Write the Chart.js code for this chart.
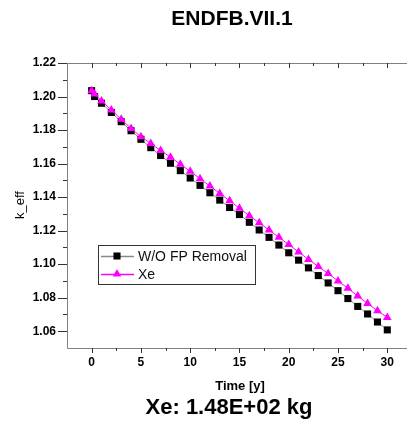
<!DOCTYPE html>
<html>
<head>
<meta charset="utf-8">
<script src="https://cdn.jsdelivr.net/npm/chart.js@4.4.1/dist/chart.umd.min.js"></script>
<style>
  html, body { margin: 0; padding: 0; background: #fff; }
  #c { display: block; }
</style>
</head>
<body>
<canvas id="c" width="412" height="426"></canvas>
<script>
// burnup time (years) and k_eff
const years = [0, 0.3, 1, 2, 3, 4, 5, 6, 7, 8, 9, 10, 11, 12, 13, 14, 15,
  16, 17, 18, 19, 20, 21, 22, 23, 24, 25, 26, 27, 28, 29, 30];
const kNoRemoval = [1.2035, 1.2000, 1.1960, 1.1905, 1.1850, 1.1796, 1.1745, 1.1695,
  1.1648, 1.1602, 1.1558, 1.1514, 1.1470, 1.1426, 1.1382, 1.1338, 1.1296, 1.1250,
  1.1204, 1.1160, 1.1114, 1.1068, 1.1024, 1.0978, 1.0932, 1.0888, 1.0842, 1.0795,
  1.0748, 1.0703, 1.0655, 1.0608];
const kXe = [1.2035, 1.2015, 1.1974, 1.1920, 1.1864, 1.1810, 1.1760, 1.1720,
  1.1678, 1.1638, 1.1596, 1.1554, 1.1510, 1.1466, 1.1422, 1.1378, 1.1333, 1.1289,
  1.1247, 1.1204, 1.1160, 1.1117, 1.1073, 1.1028, 1.0986, 1.0944, 1.0900, 1.0856,
  1.0810, 1.0765, 1.0722, 1.0682];

const seriesLabels = ['W/O FP Removal', 'Xe'];
const xMajor = [0, 5, 10, 15, 20, 25, 30];
const xMinor = [2.5, 7.5, 12.5, 17.5, 22.5, 27.5];
const yMajor = [1.06, 1.08, 1.10, 1.12, 1.14, 1.16, 1.18, 1.20, 1.22];
const yMinor = [1.07, 1.09, 1.11, 1.13, 1.15, 1.17, 1.19, 1.21];

const tickFont = { family: '"Liberation Sans Narrow", "Arial Narrow", "Liberation Sans", Arial, sans-serif', weight: 'bold', size: 12 };
const isMajor = (list, v) => list.some(m => Math.abs(m - v) < 1e-6);

// axes frame, tick marks, texts and the inset legend
const decor = {
  id: 'decor',
  beforeDatasetsDraw(chart) {
    const { ctx, chartArea: a, scales: { x, y } } = chart;
    ctx.save();
    ctx.lineWidth = 1;
    ctx.strokeStyle = '#808080';
    ctx.beginPath();
    ctx.moveTo(a.left + 0.5, a.top);
    ctx.lineTo(a.left + 0.5, a.bottom + 0.5);
    ctx.lineTo(a.right, a.bottom + 0.5);
    ctx.moveTo(a.left, a.top + 0.5);
    ctx.lineTo(a.right, a.top + 0.5);
    ctx.stroke();

    ctx.strokeStyle = '#333';
    ctx.beginPath();
    y.ticks.forEach(t => {
      const major = isMajor(yMajor, t.value);
      if (!major && !isMajor(yMinor, t.value)) return;
      const py = Math.round(y.getPixelForValue(t.value)) + 0.5;
      ctx.moveTo(a.left - (major ? 9 : 4), py);
      ctx.lineTo(a.left, py);
    });
    x.ticks.forEach(t => {
      const major = isMajor(xMajor, t.value);
      if (!major && !isMajor(xMinor, t.value)) return;
      const px = Math.round(x.getPixelForValue(t.value)) + 0.5;
      const len = major ? 5 : 3;
      ctx.moveTo(px, a.bottom);
      ctx.lineTo(px, a.bottom + len);
      ctx.moveTo(px, a.top);
      ctx.lineTo(px, a.top + len);
    });
    ctx.stroke();
    ctx.restore();
  },
  afterDraw(chart) {
    const { ctx } = chart;
    ctx.save();
    ctx.fillStyle = '#000';
    ctx.textAlign = 'center';
    ctx.textBaseline = 'middle';

    ctx.font = 'bold 21px "Liberation Sans", Arial, sans-serif';
    ctx.fillText('ENDFB.VII.1', 232, 19);
    ctx.font = 'bold 22px "Liberation Sans", Arial, sans-serif';
    ctx.fillText('Xe: 1.48E+02 kg', 229, 408);

    ctx.font = 'bold 13px "Liberation Sans", Arial, sans-serif';
    ctx.fillText('Time [y]', 240, 386);

    ctx.save();
    ctx.translate(20, 205);
    ctx.rotate(-Math.PI / 2);
    ctx.font = '13px "Liberation Sans", Arial, sans-serif';
    ctx.fillText('k_eff', 0, 0);
    ctx.restore();

    // legend box
    ctx.strokeStyle = '#333';
    ctx.lineWidth = 1;
    ctx.strokeRect(98.5, 245.5, 157, 39);
    ctx.textAlign = 'left';
    ctx.font = '14px "Liberation Sans", Arial, sans-serif';
    chart.data.datasets.forEach((ds, i) => {
      const ly = 256 + i * 18;
      ctx.strokeStyle = ds.borderColor;
      ctx.lineWidth = 1.5;
      ctx.beginPath();
      ctx.moveTo(101, ly + 0.5);
      ctx.lineTo(134, ly + 0.5);
      ctx.stroke();
      ctx.fillStyle = ds.pointBackgroundColor;
      ctx.beginPath();
      Chart.helpers.drawPoint(ctx, {
        pointStyle: ds.pointStyle, radius: ds.pointRadius, rotation: 0, borderWidth: 0
      }, 117, ly);
      ctx.fillStyle = '#111';
      ctx.fillText(ds.label, 138, ly + 1);
    });
    ctx.restore();
  }
};

const ctx = document.getElementById('c').getContext('2d');
new Chart(ctx, {
  type: 'line',
  data: {
    datasets: [
      {
        label: seriesLabels[0],
        data: years.map((t, i) => ({ x: t, y: kNoRemoval[i] })),
        borderColor: '#8a8a8a',
        borderWidth: 1,
        pointStyle: 'rect',
        pointRadius: 5,
        pointBackgroundColor: '#000',
        pointBorderWidth: 0,
        order: 2
      },
      {
        label: seriesLabels[1],
        data: years.map((t, i) => ({ x: t, y: kXe[i] })),
        borderColor: '#ff00ff',
        borderWidth: 1,
        pointStyle: 'triangle',
        pointRadius: 5,
        pointBackgroundColor: '#ff00ff',
        pointBorderWidth: 0,
        order: 1
      }
    ]
  },
  options: {
    responsive: false,
    devicePixelRatio: 1,
    animation: false,
    layout: { padding: { top: 63, left: 0, right: 0, bottom: 0 } },
    plugins: {
      legend: { display: false },
      tooltip: { enabled: false }
    },
    scales: {
      x: {
        type: 'linear',
        min: -2.5,
        max: 32,
        afterFit: s => { s.height = 78; },
        afterBuildTicks: s => { s.ticks = [...xMajor, ...xMinor].sort((p, q) => p - q).map(v => ({ value: v })); },
        grid: { display: false, drawTicks: true, tickLength: 5 },
        border: { display: false },
        ticks: {
          autoSkip: false, maxRotation: 0, padding: 2, color: '#000', font: tickFont,
          callback: v => isMajor(xMajor, v) ? String(v) : ''
        }
      },
      y: {
        type: 'linear',
        min: 1.05,
        max: 1.22,
        afterFit: s => { s.width = 67; },
        afterBuildTicks: s => { s.ticks = [...yMajor, ...yMinor].sort((p, q) => p - q).map(v => ({ value: v })); },
        grid: { display: false, drawTicks: true, tickLength: 9 },
        border: { display: false },
        ticks: {
          autoSkip: false, padding: 2, color: '#000', font: tickFont,
          callback: v => isMajor(yMajor, v) ? v.toFixed(2) : ''
        }
      }
    }
  },
  plugins: [decor]
});
</script>
</body>
</html>
